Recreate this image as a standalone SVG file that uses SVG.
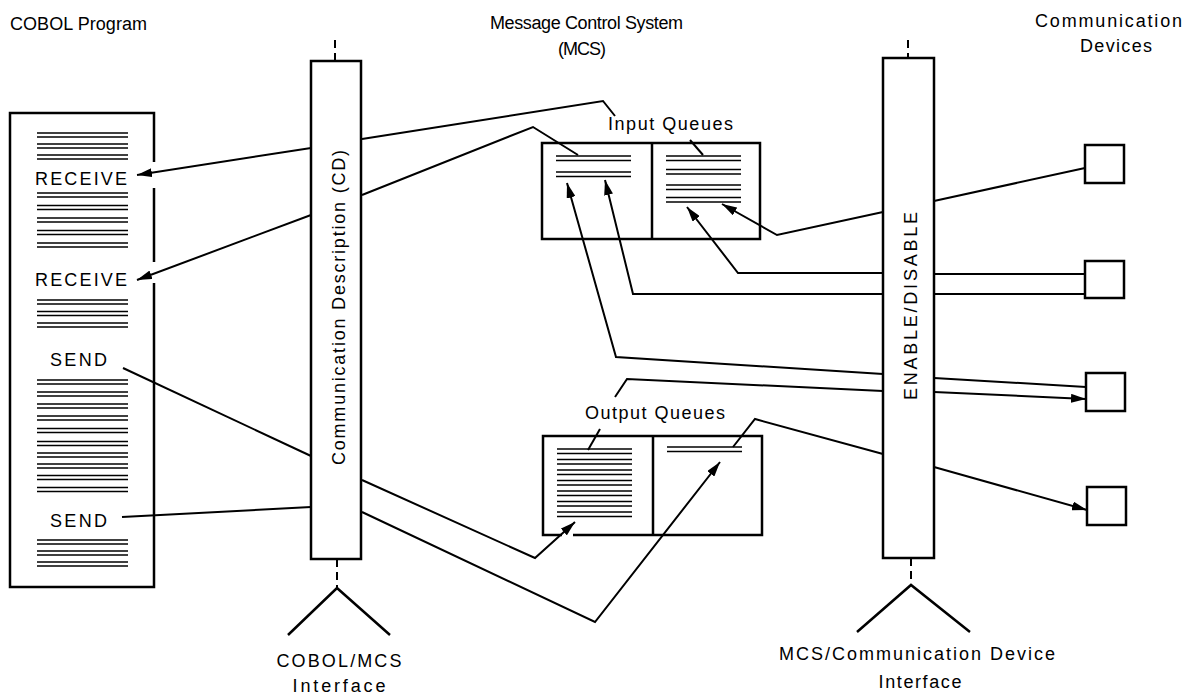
<svg xmlns="http://www.w3.org/2000/svg" width="1187" height="695" viewBox="0 0 1187 695">
  <style>
    .box { fill: #fff; stroke: #000; stroke-width: 2.5; }
    .edge { fill: none; stroke: #000; stroke-width: 2.5; }
    .conn { fill: none; stroke: #000; stroke-width: 2; stroke-linejoin: miter; }
    .rule { stroke: #000; stroke-width: 1.7; }
    .tick { stroke: #000; stroke-width: 2; stroke-dasharray: 8 5; }
    text { font-family: "Liberation Sans", Arial, sans-serif; font-size: 18px; fill: #000; }
    .mid { text-anchor: middle; }
  </style>
  <defs>
    <marker id="arrow" markerUnits="userSpaceOnUse" markerWidth="16" markerHeight="9" refX="15" refY="4.5" orient="auto">
      <path d="M0,0 L15,4.5 L0,9 z" fill="#000"/>
    </marker>
    <!-- one line of program text: a double rule -->
    <g id="rowL">
      <line class="rule" x1="0" y1="0" x2="91" y2="0"/>
      <line class="rule" x1="0" y1="4" x2="91" y2="4"/>
    </g>
    <g id="rowQ">
      <line class="rule" x1="0" y1="0" x2="75" y2="0"/>
      <line class="rule" x1="0" y1="4.5" x2="75" y2="4.5"/>
    </g>
  </defs>

  <!-- headings -->
  <text x="10" y="30" textLength="137" lengthAdjust="spacing">COBOL Program</text>
  <text x="490" y="29" textLength="193" lengthAdjust="spacing">Message Control System</text>
  <text x="558" y="55" textLength="48" lengthAdjust="spacing">(MCS)</text>
  <text x="1035" y="27" textLength="147" lengthAdjust="spacing">Communication</text>
  <text x="1080" y="52" textLength="72" lengthAdjust="spacing">Devices</text>

  <!-- COBOL program listing -->
  <g id="cobol-program">
    <path class="edge" d="M154,162 L154,113 L10,113 L10,587 L154,587 L154,283 M154,262 L154,188"/>
    <text x="35" y="185" textLength="92" lengthAdjust="spacing">RECEIVE</text>
    <text x="35" y="286" textLength="92" lengthAdjust="spacing">RECEIVE</text>
    <text x="50" y="366" textLength="57" lengthAdjust="spacing">SEND</text>
    <text x="50" y="527" textLength="57" lengthAdjust="spacing">SEND</text>
    <g transform="translate(37,0)">
      <use href="#rowL" y="133"/><use href="#rowL" y="144"/><use href="#rowL" y="155"/>
      <use href="#rowL" y="193"/><use href="#rowL" y="205.5"/><use href="#rowL" y="218"/><use href="#rowL" y="230.5"/><use href="#rowL" y="243"/>
      <use href="#rowL" y="300"/><use href="#rowL" y="311.5"/><use href="#rowL" y="323"/>
      <use href="#rowL" y="380"/><use href="#rowL" y="392"/><use href="#rowL" y="404"/><use href="#rowL" y="416"/><use href="#rowL" y="428.5"/>
      <use href="#rowL" y="441.5"/><use href="#rowL" y="453"/><use href="#rowL" y="464"/><use href="#rowL" y="475.5"/><use href="#rowL" y="487.5"/>
      <use href="#rowL" y="540"/><use href="#rowL" y="551"/><use href="#rowL" y="562"/>
    </g>
  </g>

  <!-- Communication Description (CD) -->
  <g id="cd-interface">
    <line class="tick" x1="335" y1="40" x2="335" y2="61"/>
    <rect class="box" x="311" y="61" width="50" height="498"/>
    <text transform="translate(345,465) rotate(-90)" textLength="315" lengthAdjust="spacing">Communication Description (CD)</text>
    <line class="tick" x1="337" y1="559" x2="337" y2="588"/>
    <path class="edge" d="M288,635 L337,588 L390,635" stroke-width="2"/>
    <text class="mid" x="339" y="667" textLength="125" lengthAdjust="spacing">COBOL/MCS</text>
    <text class="mid" x="339" y="692" textLength="93" lengthAdjust="spacing">Interface</text>
  </g>

  <!-- ENABLE/DISABLE -->
  <g id="device-interface">
    <line class="tick" x1="908" y1="40" x2="908" y2="58"/>
    <rect class="box" x="883" y="58" width="51" height="500"/>
    <text transform="translate(917,400) rotate(-90)" textLength="188" lengthAdjust="spacing">ENABLE/DISABLE</text>
    <line class="tick" x1="911" y1="558" x2="911" y2="585"/>
    <path class="edge" d="M857,632 L911,585 L970,632" stroke-width="2"/>
    <text class="mid" x="917" y="660" textLength="276" lengthAdjust="spacing">MCS/Communication Device</text>
    <text class="mid" x="920" y="688" textLength="83" lengthAdjust="spacing">Interface</text>
  </g>

  <!-- input queues -->
  <g id="input-queues">
    <text x="608" y="130" textLength="125" lengthAdjust="spacing">Input Queues</text>
    <rect class="box" x="542" y="143" width="218" height="96"/>
    <line class="edge" x1="652" y1="143" x2="652" y2="239"/>
    <use href="#rowQ" x="556" y="156"/><use href="#rowQ" x="556" y="172"/>
    <use href="#rowQ" x="666" y="156"/><use href="#rowQ" x="666" y="169.5"/><use href="#rowQ" x="666" y="185"/><use href="#rowQ" x="666" y="197.5"/>
  </g>

  <!-- output queues -->
  <g id="output-queues">
    <text x="585" y="419" textLength="140" lengthAdjust="spacing">Output Queues</text>
    <path class="edge" d="M562,535 L543,535 L543,436 L762,436 L762,535 L573,535 M653,436 L653,535"/>
    <use href="#rowQ" x="557" y="449"/><use href="#rowQ" x="557" y="459.5"/><use href="#rowQ" x="557" y="470"/><use href="#rowQ" x="557" y="480.5"/>
    <use href="#rowQ" x="557" y="491"/><use href="#rowQ" x="557" y="501.5"/><use href="#rowQ" x="557" y="512"/>
    <use href="#rowQ" x="667" y="447"/>
  </g>

  <!-- communication devices -->
  <g id="device-1"><rect class="box" x="1085" y="145" width="39" height="38"/></g>
  <g id="device-2"><rect class="box" x="1085" y="261" width="39" height="37"/></g>
  <g id="device-3"><rect class="box" x="1086" y="373" width="39" height="38"/></g>
  <g id="device-4"><rect class="box" x="1087" y="487" width="39" height="38"/></g>

  <!-- message paths -->
  <g id="connectors">
    <!-- program side -->
    <path class="conn" d="M311,148 L137,175" marker-end="url(#arrow)"/>
    <path class="conn" d="M362,139 L603,101 L615,116"/>
    <path class="conn" d="M311,215 L137,280" marker-end="url(#arrow)"/>
    <path class="conn" d="M362,195 L533,127 L578,155"/>
    <path class="conn" d="M123,368 L311,456"/>
    <path class="conn" d="M362,480 L535,558 L575,522" marker-end="url(#arrow)"/>
    <path class="conn" d="M122,517 L311,507"/>
    <path class="conn" d="M362,512 L595,622 L720,462" marker-end="url(#arrow)"/>
    <!-- queue labels -->
    <path class="conn" d="M690,140 L703,155"/>
    <path class="conn" d="M588,450 L600,429"/>
    <!-- device side -->
    <path class="conn" d="M1085,168 L934,201"/>
    <path class="conn" d="M883,212 L777,235 L722,204" marker-end="url(#arrow)"/>
    <path class="conn" d="M1085,274 L934,274"/>
    <path class="conn" d="M883,273 L738,273 L687,207" marker-end="url(#arrow)"/>
    <path class="conn" d="M1085,294 L934,294"/>
    <path class="conn" d="M883,294 L633,294 L605,180" marker-end="url(#arrow)"/>
    <path class="conn" d="M1086,387 L934,378"/>
    <path class="conn" d="M883,374 L616,357 L567,183" marker-end="url(#arrow)"/>
    <path class="conn" d="M615,397 L627,379 L883,391"/>
    <path class="conn" d="M934,392 L1086,399" marker-end="url(#arrow)"/>
    <path class="conn" d="M883,454 L755,419 L733,447"/>
    <path class="conn" d="M934,467 L1087,510" marker-end="url(#arrow)"/>
  </g>
</svg>
